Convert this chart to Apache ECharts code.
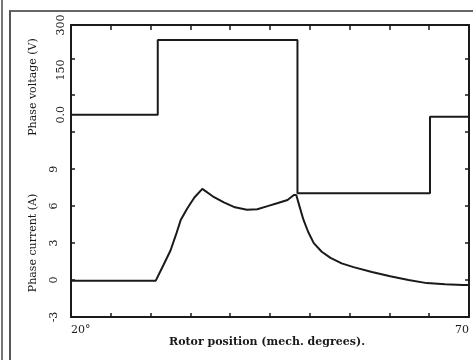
<!DOCTYPE html>
<html><head><meta charset="utf-8">
<script src="https://cdn.jsdelivr.net/npm/echarts@6/dist/echarts.min.js"></script>
<style>
html,body{margin:0;padding:0;background:#fff;}
#frame{position:absolute;left:9px;top:10px;width:480px;height:370px;border-left:2px solid #555;border-top:2px solid #666;}
#edge{position:absolute;left:1px;top:0;width:2px;height:360px;background:#777;}
#c{position:absolute;left:0;top:0;width:473px;height:360px;}
</style></head>
<body>
<div id="edge"></div><div id="frame"></div>
<div id="c"></div>
<script>
// Rotor position (mech. degrees) and phase current (A)
const currentPos = [20, 30.65, 31.6, 32.5, 33.2, 33.8, 34.6, 35.5, 36.5, 37.8, 39.2, 40.6, 42.1, 43.4, 44.7, 46.0, 47.2, 48.0, 48.3, 48.7, 49.2, 49.8, 50.5, 51.5, 52.6, 54.0, 55.5, 57.8, 60.1, 62.4, 64.7, 67.0, 69.2, 70];
const currentVal = [-0.05, -0.05, 1.2, 2.4, 3.7, 4.9, 5.8, 6.7, 7.4, 6.8, 6.3, 5.9, 5.7, 5.75, 6.0, 6.25, 6.5, 6.9, 6.9, 6.0, 4.9, 3.9, 3.0, 2.3, 1.8, 1.35, 1.05, 0.65, 0.3, 0.0, -0.25, -0.35, -0.4, -0.4];
// Phase voltage (V) with switching edges
const voltagePos = [20, 30.9, 30.9, 48.45, 48.45, 65.1, 65.1, 70];
const voltageVal = [0, 0, 250, 250, -262, -262, -6, -6];
// Tick labels
const voltageLabels = {300: '300', 150: '150', 0: '0.0'};
const currentLabels = {'-3': '-3', 0: '0', 3: '3', 6: '6', 9: '9'};
const xLabels = {20: '20°', 70: '70'};

const font = '"DejaVu Serif", "Liberation Serif", serif';
const ink = '#1a1a1a';
const chart = echarts.init(document.getElementById('c'));
chart.setOption({
  animation: false,
  backgroundColor: 'transparent',
  grid: {left: 71, right: 4, top: 25, bottom: 43, containLabel: false, outerBoundsMode: 'none'},
  xAxis: [{
    type: 'value', min: 20, max: 70, interval: 5, position: 'bottom',
    axisLine: {onZero: false, lineStyle: {color: ink, width: 2}},
    axisTick: {inside: true, length: 4, lineStyle: {color: ink, width: 1.5}},
    axisLabel: {color: ink, fontFamily: font, fontSize: 11, margin: 8,
      alignMinLabel: 'left', alignMaxLabel: 'right',
      formatter: v => xLabels[v] || ''},
    splitLine: {show: false}
  }, {
    type: 'value', min: 20, max: 70, interval: 5, position: 'top',
    axisLine: {onZero: false, lineStyle: {color: ink, width: 2}},
    axisTick: {inside: true, length: 5, lineStyle: {color: ink, width: 1.5}},
    axisLabel: {show: false}, splitLine: {show: false}
  }],
  yAxis: [{
    type: 'value', min: -3, max: 20.7, interval: 3, position: 'left',
    axisLine: {onZero: false, lineStyle: {color: ink, width: 2}},
    axisTick: {inside: true, length: 4, lineStyle: {color: ink, width: 1.5}},
    axisLabel: {color: ink, fontFamily: font, fontSize: 11, rotate: 90, margin: 11,
      formatter: v => currentLabels[String(Math.round(v))] || ''},
    splitLine: {show: false}
  }, {
    type: 'value', min: -675, max: 300, interval: 75, position: 'left',
    axisLine: {show: false, onZero: false}, axisTick: {show: false},
    axisLabel: {color: ink, fontFamily: font, fontSize: 11, rotate: 90, margin: 4,
      formatter: v => voltageLabels[v] || ''},
    splitLine: {show: false}
  }, {
    type: 'value', min: -3, max: 20.7, interval: 3, position: 'right',
    axisLine: {onZero: false, lineStyle: {color: ink, width: 2}},
    axisTick: {inside: true, length: 4, lineStyle: {color: ink, width: 1.5}},
    axisLabel: {show: false}, splitLine: {show: false}
  }],
  series: [{
    type: 'line', xAxisIndex: 0, yAxisIndex: 0, showSymbol: false, smooth: false,
    lineStyle: {color: ink, width: 2},
    data: currentPos.map((p, i) => [p, currentVal[i]])
  }, {
    type: 'line', xAxisIndex: 0, yAxisIndex: 1, showSymbol: false,
    lineStyle: {color: ink, width: 2},
    data: voltagePos.map((p, i) => [p, voltageVal[i]])
  }],
  graphic: [
    {type: 'text', x: 33, y: 87, rotation: Math.PI / 2,
      style: {text: 'Phase voltage (V)', fill: ink, font: '11px ' + font, align: 'center', verticalAlign: 'middle'}},
    {type: 'text', x: 33, y: 243, rotation: Math.PI / 2,
      style: {text: 'Phase current (A)', fill: ink, font: '11px ' + font, align: 'center', verticalAlign: 'middle'}},
    {type: 'text', x: 267, y: 342,
      style: {text: 'Rotor position (mech. degrees).', fill: ink, font: 'bold 11px ' + font, align: 'center', verticalAlign: 'middle'}}
  ]
});
</script>
</body></html>
